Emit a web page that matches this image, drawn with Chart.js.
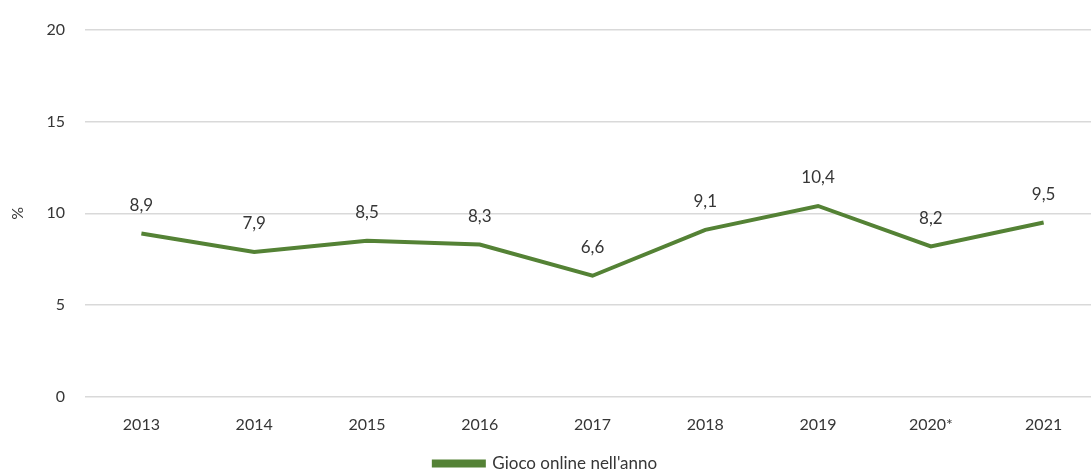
<!DOCTYPE html>
<html>
<head>
<meta charset="utf-8">
<script src="https://cdn.jsdelivr.net/npm/chart.js@4.4.1/dist/chart.umd.min.js"></script>
<style>
  html, body { margin: 0; padding: 0; background: #fff; overflow: hidden; }
  #wrap { width: 1091px; height: 470px; overflow: hidden; }
</style>
</head>
<body>
<div id="wrap"><canvas id="onlineChart" width="1091" height="482"></canvas></div>
<script>
// gioco online nell'anno, % per anno
const years = ['2013', '2014', '2015', '2016', '2017', '2018', '2019', '2020*', '2021'];
const onlineValues = [8.9, 7.9, 8.5, 8.3, 6.6, 9.1, 10.4, 8.2, 9.5];
const yTicks = [0, 5, 10, 15, 20];

const FONT = 'Lato, "Open Sans", sans-serif';
const GREEN = '#548235';
const TEXT = '#363636';

// values written above each point, with a decimal comma
const valueLabels = {
    id: 'valueLabels',
    afterDatasetsDraw(chart) {
        const ctx = chart.ctx;
        const meta = chart.getDatasetMeta(0);
        ctx.save();
        ctx.font = '17px ' + FONT;
        ctx.fillStyle = TEXT;
        ctx.textAlign = 'center';
        ctx.textBaseline = 'middle';
        meta.data.forEach((pt, i) => {
            const txt = onlineValues[i].toFixed(1).replace('.', ',');
            ctx.fillText(txt, pt.x, pt.y - 28);
        });
        ctx.restore();
    }
};

document.addEventListener("DOMContentLoaded", function() {
    const ctx = document.getElementById('onlineChart').getContext('2d');
    const config = {
        type: 'line',
        data: {
            datasets: [{
                label: "Gioco online nell'anno",
                data: onlineValues.map((v, i) => ({ x: i, y: v })),
                borderColor: GREEN,
                backgroundColor: GREEN,
                borderWidth: 4,
                pointRadius: 0,
                tension: 0,
                fill: false,
            }]
        },
        options: {
            responsive: false,
            animation: false,
            layout: { padding: { top: 25, right: 0, bottom: 0, left: 0 } },
            scales: {
                x: {
                    type: 'linear',
                    min: -0.5,
                    max: 8.42,
                    afterBuildTicks: (scale) => {
                        scale.ticks = years.map((_, i) => ({ value: i }));
                    },
                    afterFit: (scale) => { scale.height = 54; },
                    grid: { display: false },
                    border: { display: false },
                    ticks: {
                        autoSkip: false,
                        maxRotation: 0,
                        padding: 10,
                        color: TEXT,
                        font: { family: FONT, size: 16 },
                        callback: (v) => years[v],
                    }
                },
                y: {
                    min: 0,
                    max: 20,
                    afterBuildTicks: (scale) => {
                        scale.ticks = yTicks.map(v => ({ value: v }));
                    },
                    afterFit: (scale) => { scale.width = 85; },
                    grid: { color: '#d9d9d9', lineWidth: 1.5, drawTicks: false },
                    border: { display: false },
                    ticks: {
                        padding: 20,
                        color: TEXT,
                        font: { family: FONT, size: 16 },
                    },
                    title: {
                        display: true,
                        text: '%',
                        color: TEXT,
                        font: { family: FONT, size: 16 },
                        padding: { top: 8, bottom: 0 },
                    }
                }
            },
            plugins: {
                legend: {
                    position: 'bottom',
                    labels: {
                        boxWidth: 50,
                        boxHeight: 4,
                        padding: 4,
                        color: TEXT,
                        font: { family: FONT, size: 17 },
                    }
                },
                tooltip: { enabled: false },
            },
        },
        plugins: [valueLabels],
    };

    const onlineChart = new Chart(ctx, config);
});
</script>
</body>
</html>
